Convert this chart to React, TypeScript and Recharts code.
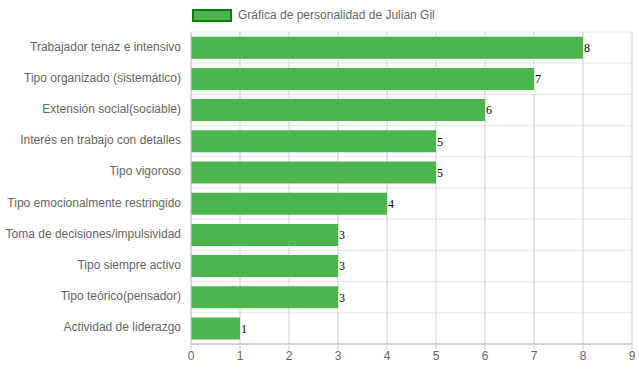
import { BarChart, Bar, XAxis, YAxis, CartesianGrid, LabelList } from 'recharts';

const categories = [
  'Trabajador tenaz e intensivo',
  'Tipo organizado (sistemático)',
  'Extensión social(sociable)',
  'Interés en trabajo con detalles',
  'Tipo vigoroso',
  'Tipo emocionalmente restringido',
  'Toma de decisiones/impulsividad',
  'Tipo siempre activo',
  'Tipo teórico(pensador)',
  'Actividad de liderazgo',
];
const scores = [8, 7, 6, 5, 5, 4, 3, 3, 3, 1];
const xTicks = [0, 1, 2, 3, 4, 5, 6, 7, 8, 9];
const seriesName = 'Gráfica de personalidad de Julian Gil';

const data = categories.map((name, i) => ({ name, value: scores[i] }));

const green = '#4db54d';
const font = 'Arial, "Liberation Sans", sans-serif';

// single-line category label (no wrapping)
function CategoryTick({ x, y, payload }: any) {
  return (
    <text x={x} y={y} dy={3} textAnchor="end" fill="#666" fontSize={12} fontFamily={font}>
      {payload.value}
    </text>
  );
}

function App() {
  return (
    <div style={{ position: 'absolute', left: 0, top: 0, width: 639, height: 372, background: '#fff' }}>
      <div style={{ position: 'absolute', left: 192, top: 8, display: 'flex', alignItems: 'center', fontFamily: font, fontSize: 12, color: '#666' }}>
        <span style={{ display: 'inline-block', width: 36, height: 9, background: green, border: '2px solid #0b7d0b', marginRight: 6 }} />
        {seriesName}
      </div>
      <BarChart
        width={639}
        height={372}
        data={data}
        layout="vertical"
        margin={{ top: 32, right: 7, bottom: 0, left: 0 }}
        barCategoryGap="15%"
      >
        <CartesianGrid
          stroke="#e6e6e6"
          horizontalCoordinatesGenerator={({ offset }: any) =>
            categories.map((_, i) => offset.top + (i * offset.height) / categories.length)
          }
          vertical={false}
        />
        <CartesianGrid stroke="#cfcfcf" horizontal={false} />
        <XAxis
          type="number"
          domain={[0, 9]}
          ticks={xTicks}
          interval={0}
          tick={{ fill: '#666', fontSize: 12, fontFamily: font }}
          axisLine={{ stroke: '#aaa' }}
          tickLine={{ stroke: '#ccc' }}
          tickSize={6}
          tickMargin={1}
          height={28}
        />
        <YAxis
          type="category"
          dataKey="name"
          width={191}
          tick={<CategoryTick />}
          tickLine={false}
          axisLine={{ stroke: '#ccc' }}
          tickMargin={4}
          interval={0}
        />
        <Bar dataKey="value" fill={green} isAnimationActive={false}>
          <LabelList dataKey="value" position="right" offset={1} fill="#000" fontSize={12} fontFamily="serif" />
        </Bar>
      </BarChart>
    </div>
  );
}

export default App;
